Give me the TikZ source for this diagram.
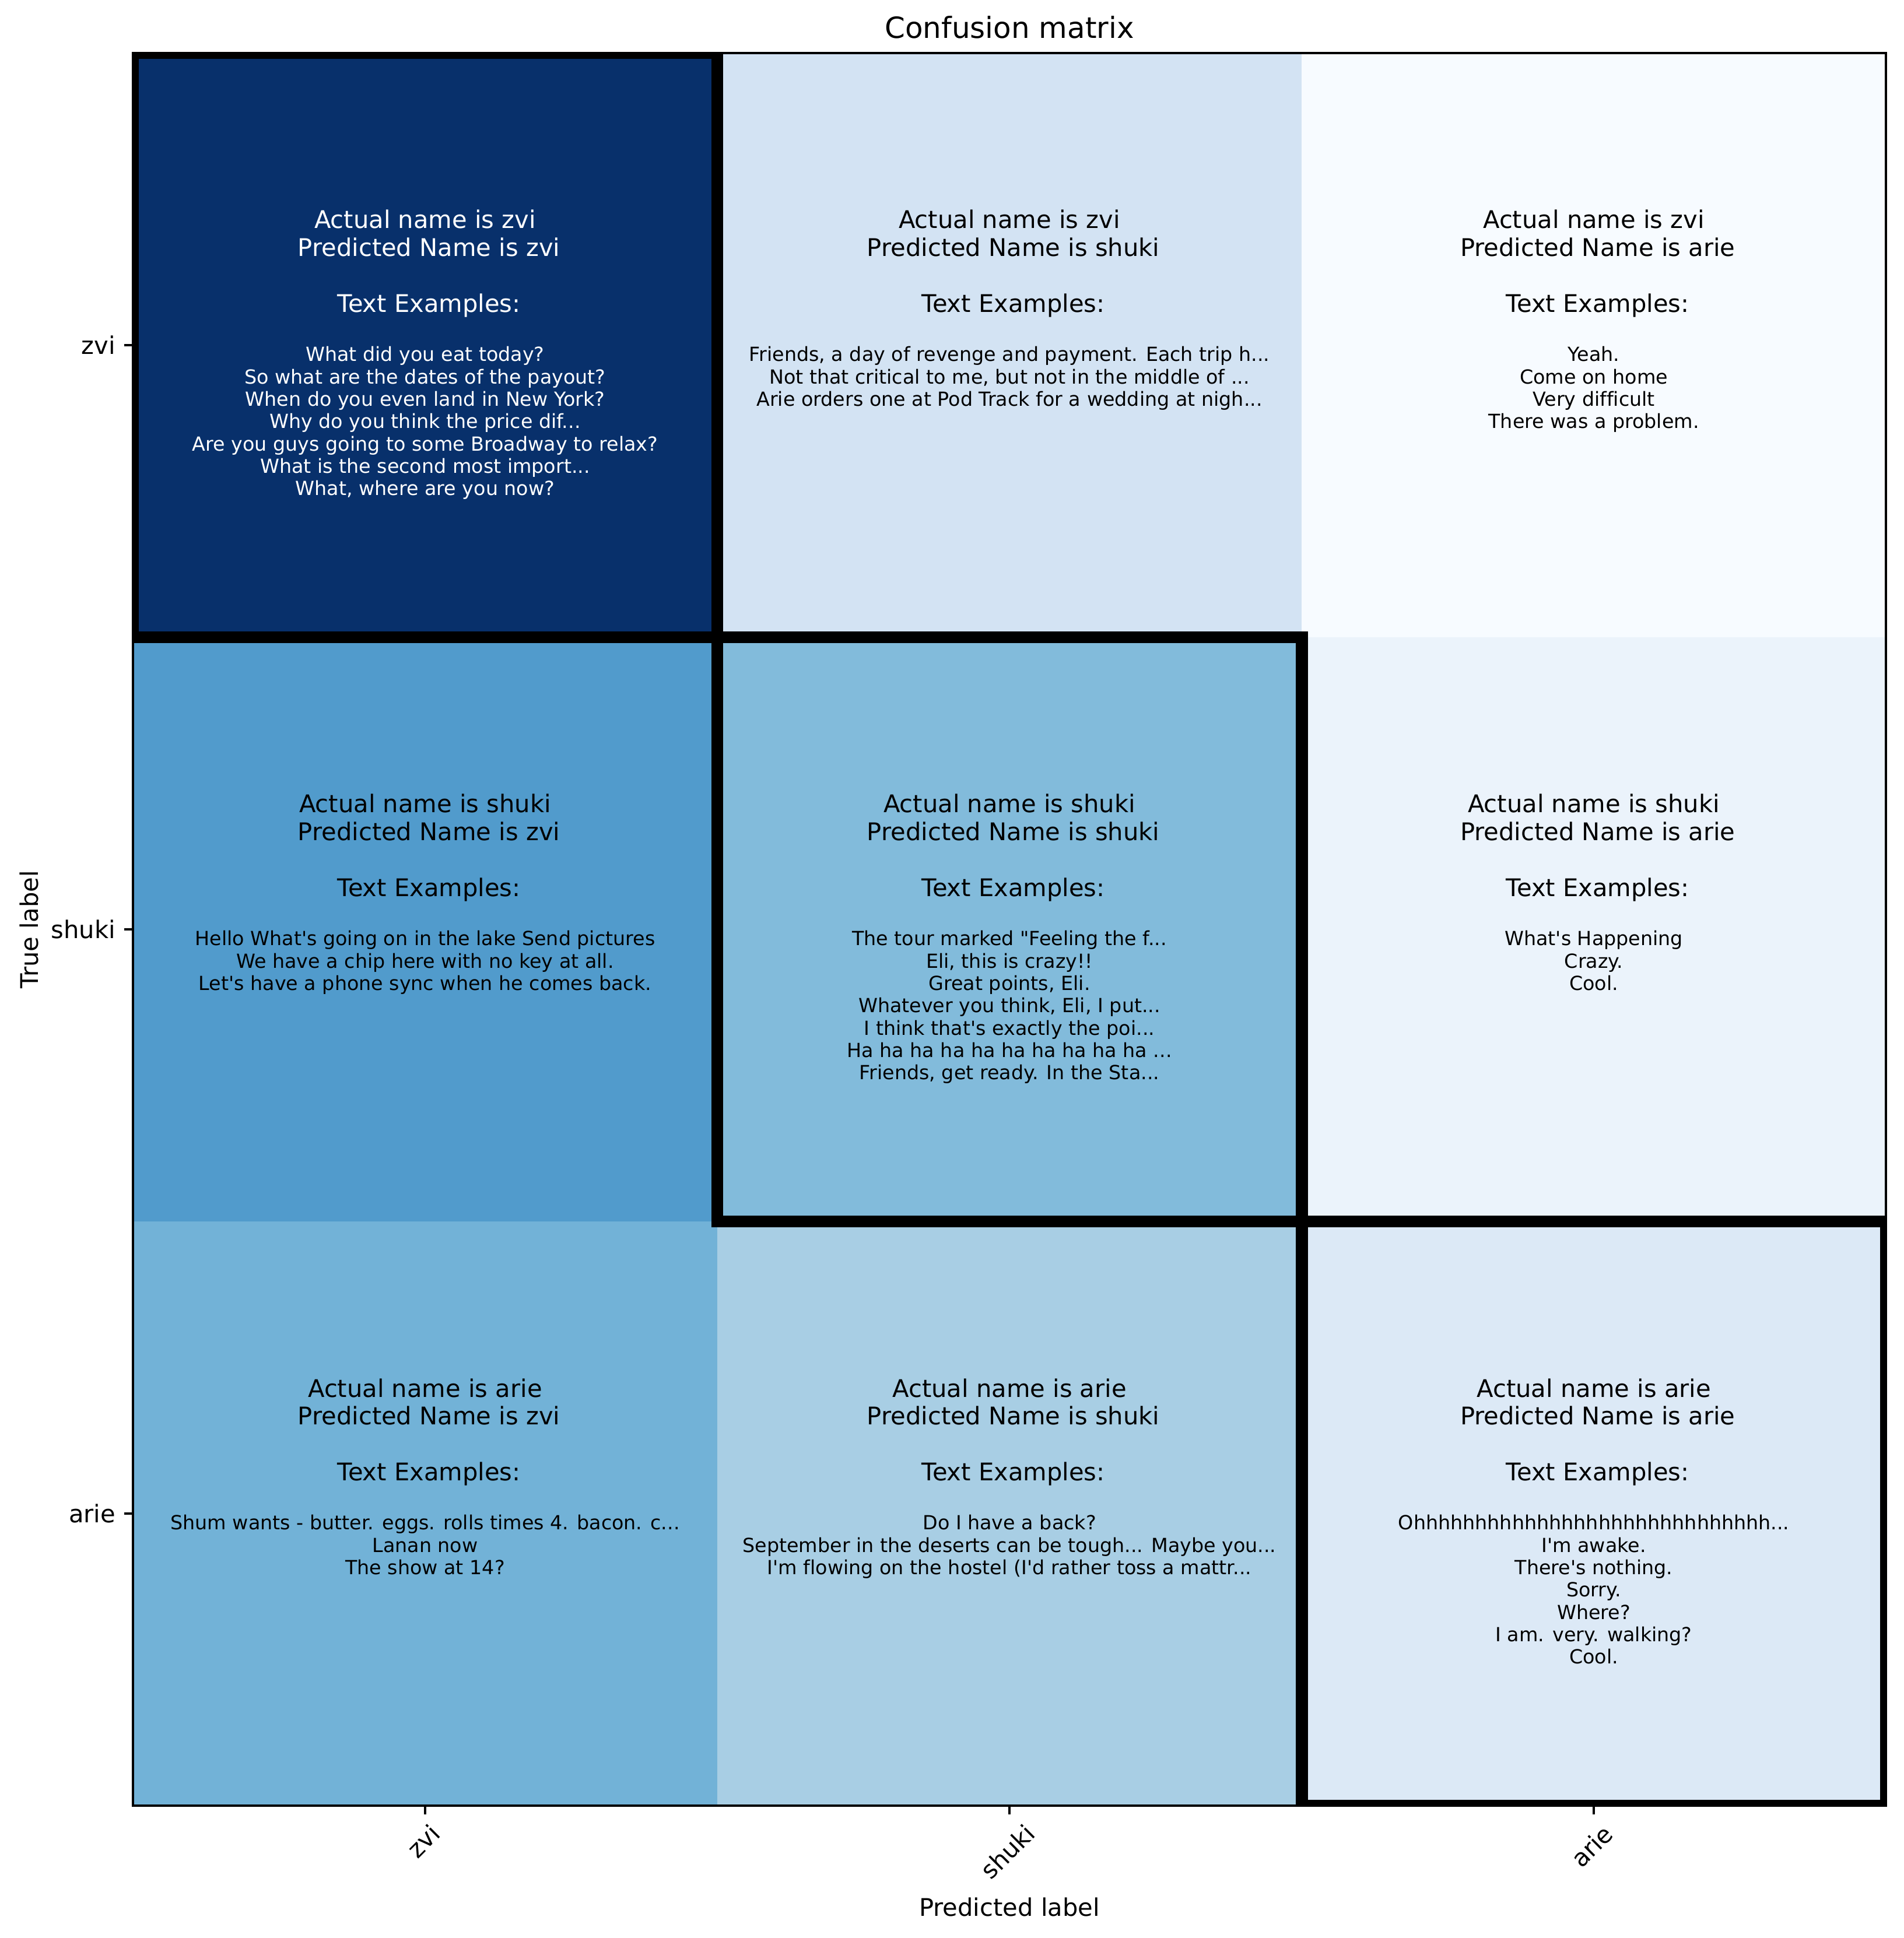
\documentclass[tikz,border=0pt]{standalone}
\usepackage{fontspec}
\setmainfont{DejaVu Sans}[Ligatures={TeXOff,CommonOff}]

\definecolor{cmzz}{RGB}{8,48,107}
\definecolor{cmzs}{RGB}{211,227,243}
\definecolor{cmza}{RGB}{247,251,255}
\definecolor{cmsz}{RGB}{81,155,204}
\definecolor{cmss}{RGB}{130,187,219}
\definecolor{cmsa}{RGB}{235,243,251}
\definecolor{cmaz}{RGB}{114,178,215}
\definecolor{cmas}{RGB}{168,206,228}
\definecolor{cmaa}{RGB}{220,233,246}

\newcommand{\cmhead}[2]{\strut Actual name is #1\\\mbox{}\ Predicted Name is #2\\[11.5pt]\mbox{}\ Text Examples:}

\begin{document}
\begin{tikzpicture}[x=240.55pt, y=240.55pt,
    headtext/.style={anchor=north, inner sep=0pt, align=center, yshift=-64pt,
      font=\fontsize{10}{11.5}\selectfont},
    extext/.style={anchor=north, inner sep=0pt, align=center, yshift=-120.3pt,
      font=\fontsize{8}{9.2}\selectfont},
    ticklabel/.style={inner sep=0pt, font=\fontsize{10}{12}\selectfont},
    diag/.style={line width=5pt}]
  \useasboundingbox[fill=white] (-0.2275,-0.2264) rectangle (3.0299,3.0908);
  % cells, rows from top: zvi, shuki, arie
  \fill[cmzz] (0,2) rectangle (1,3);
  \fill[cmzs] (1,2) rectangle (2,3);
  \fill[cmza] (2,2) rectangle (3,3);
  \fill[cmsz] (0,1) rectangle (1,2);
  \fill[cmss] (1,1) rectangle (2,2);
  \fill[cmsa] (2,1) rectangle (3,2);
  \fill[cmaz] (0,0) rectangle (1,1);
  \fill[cmas] (1,0) rectangle (2,1);
  \fill[cmaa] (2,0) rectangle (3,1);

  % actual zvi
  \node[headtext, text=white] (zz-head) at (0.5,3) {\cmhead{zvi}{zvi}};
  \node[extext, text=white] (zz-ex) at (0.5,3) {\strut What did you eat today?\\
    So what are the dates of the payout?\\When do you even land in New York?\\
    Why do you think the price dif...\\Are you guys going to some Broadway to relax?\\
    What is the second most import...\\What, where are you now?};
  \node[headtext] (zs-head) at (1.5,3) {\cmhead{zvi}{shuki}};
  \node[extext] (zs-ex) at (1.5,3) {\strut Friends, a day of revenge and payment. Each trip h...\\
    Not that critical to me, but not in the middle of ...\\
    Arie orders one at Pod Track for a wedding at nigh...};
  \node[headtext] (za-head) at (2.5,3) {\cmhead{zvi}{arie}};
  \node[extext] (za-ex) at (2.5,3) {\strut Yeah.\\Come on home\\Very difficult\\There was a problem.};

  % actual shuki
  \node[headtext] (sz-head) at (0.5,2) {\cmhead{shuki}{zvi}};
  \node[extext] (sz-ex) at (0.5,2) {\strut Hello What's going on in the lake Send pictures\\
    We have a chip here with no key at all.\\Let's have a phone sync when he comes back.};
  \node[headtext] (ss-head) at (1.5,2) {\cmhead{shuki}{shuki}};
  \node[extext] (ss-ex) at (1.5,2) {\strut The tour marked "Feeling the f...\\Eli, this is crazy!!\\
    Great points, Eli.\\Whatever you think, Eli, I put...\\I think that's exactly the poi...\\
    Ha ha ha ha ha ha ha ha ha ha ...\\Friends, get ready. In the Sta...};
  \node[headtext] (sa-head) at (2.5,2) {\cmhead{shuki}{arie}};
  \node[extext] (sa-ex) at (2.5,2) {\strut What's Happening\\Crazy.\\Cool.};

  % actual arie
  \node[headtext] (az-head) at (0.5,1) {\cmhead{arie}{zvi}};
  \node[extext] (az-ex) at (0.5,1) {\strut Shum wants - butter. eggs. rolls times 4. bacon. c...\\
    Lanan now\\The show at 14?};
  \node[headtext] (as-head) at (1.5,1) {\cmhead{arie}{shuki}};
  \node[extext] (as-ex) at (1.5,1) {\strut Do I have a back?\\
    September in the deserts can be tough... Maybe you...\\
    I'm flowing on the hostel (I'd rather toss a mattr...};
  \node[headtext] (aa-head) at (2.5,1) {\cmhead{arie}{arie}};
  \node[extext] (aa-ex) at (2.5,1) {\strut Ohhhhhhhhhhhhhhhhhhhhhhhhhhhhh...\\I'm awake.\\
    There's nothing.\\Sorry.\\Where?\\I am. very. walking?\\Cool.};

  % diagonal frames, clipped to the axes
  \begin{scope}
    \clip (0,0) rectangle (3,3);
    \draw[diag] (0,2) rectangle (1,3);
    \draw[diag] (1,1) rectangle (2,2);
    \draw[diag] (2,0) rectangle (3,1);
  \end{scope}
  \draw[line width=0.8pt] (0,0) rectangle (3,3);

  % ticks
  \draw[line width=0.8pt] (0.5,0) -- ++(0,-3.5pt);
  \draw[line width=0.8pt] (1.5,0) -- ++(0,-3.5pt);
  \draw[line width=0.8pt] (2.5,0) -- ++(0,-3.5pt);
  \draw[line width=0.8pt] (0,2.5) -- ++(-3.5pt,0);
  \draw[line width=0.8pt] (0,1.5) -- ++(-3.5pt,0);
  \draw[line width=0.8pt] (0,0.5) -- ++(-3.5pt,0);
  \node[ticklabel, rotate=45, text height=7.6pt, text depth=2.4pt] (xt-zvi) at ([yshift=-15.3pt]0.5,0) {zvi};
  \node[ticklabel, rotate=45, text height=7.6pt, text depth=2.4pt] (xt-shuki) at ([yshift=-19.7pt]1.5,0) {shuki};
  \node[ticklabel, rotate=45, text height=7.6pt, text depth=2.4pt] (xt-arie) at ([yshift=-17.5pt]2.5,0) {arie};
  \node[ticklabel, anchor=east] (yt-zvi) at ([xshift=-7pt]0,2.5) {zvi};
  \node[ticklabel, anchor=east] (yt-shuki) at ([xshift=-7pt]0,1.5) {shuki};
  \node[ticklabel, anchor=east] (yt-arie) at ([xshift=-7pt]0,0.5) {arie};

  % labels
  \node[anchor=base, inner sep=0pt, font=\fontsize{12}{14.4}\selectfont] (title) at ([yshift=6pt]1.5,3) {Confusion matrix};
  \node[ticklabel, anchor=base] (xlab) at ([yshift=-45.4pt]1.5,0) {Predicted label};
  \node[ticklabel, anchor=base, rotate=90] (ylab) at ([xshift=-38.9pt]0,1.5) {True label};
\end{tikzpicture}
\end{document}
